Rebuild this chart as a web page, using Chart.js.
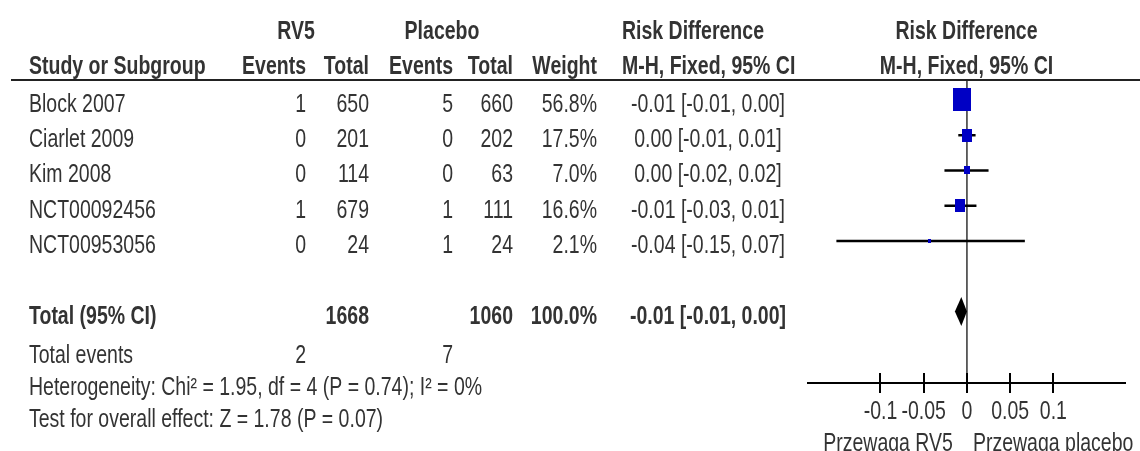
<!DOCTYPE html>
<html><head><meta charset="utf-8">
<script src="https://cdn.jsdelivr.net/npm/chart.js@4.4.1/dist/chart.umd.min.js"></script>
<style>html,body{margin:0;padding:0;background:#fff;overflow:hidden}#wrap{width:1140px;height:451px;position:relative}</style>
</head><body><div id="wrap"><canvas id="c" width="1140" height="451"></canvas></div>
<script>
// ---------- data ----------
const studies = ['Block 2007','Ciarlet 2009','Kim 2008','NCT00092456','NCT00953056'];
const rv5Events = [1,0,0,1,0];
const rv5Totals = [650,201,114,679,24];
const placeboEvents = [5,0,0,1,1];
const placeboTotals = [660,202,63,111,24];
const weights = [56.8,17.5,7.0,16.6,2.1];
const ciLabels = ['-0.01 [-0.01, 0.00]','0.00 [-0.01, 0.01]','0.00 [-0.02, 0.02]','-0.01 [-0.03, 0.01]','-0.04 [-0.15, 0.07]'];
const riskDiff = [-0.006, 0.0005, 0.0, -0.008, -0.043];
const ciLower = [-0.013, -0.010, -0.026, -0.026, -0.151];
const ciUpper = [0.001, 0.010, 0.025, 0.011, 0.067];
const studyRows = [1,2,3,4,5];
const totalRow = 7;
const totalLabel = 'Total (95% CI)';
const totalRv5 = 1668, totalPlacebo = 1060, totalWeight = '100.0%';
const totalCiLabel = '-0.01 [-0.01, 0.00]';
const totalRD = -0.0065, totalLower = -0.0139, totalUpper = 0.0;
const totalEventsLabel = 'Total events';
const totalEventsRv5 = 2, totalEventsPlacebo = 7;
const heterogeneityText = 'Heterogeneity: Chi\u00B2 = 1.95, df = 4 (P = 0.74); I\u00B2 = 0%';
const overallEffectText = 'Test for overall effect: Z = 1.78 (P = 0.07)';
const tickValues = [-0.1,-0.05,0,0.05,0.1];
const tickLabels = ['-0.1','-0.05','0','0.05','0.1'];
const favoursLeft = 'Przewaga RV5', favoursRight = 'Przewaga placebo';

// ---------- style ----------
const FONT = '"Liberation Sans", Arial, sans-serif';
const FS = 19.5, VS = 1.28, TEXT_DY = 2;
const TXT = '#333333';
const BLUE = '#0000C4';

function txt(ctx, s, x, y, align, bold) {
  ctx.save();
  ctx.font = (bold ? 'bold ' : '') + FS + 'px ' + FONT;
  ctx.fillStyle = TXT; ctx.textAlign = align; ctx.textBaseline = 'middle';
  ctx.translate(x, y + TEXT_DY); ctx.scale(1, VS); ctx.fillText(String(s), 0, 0);
  ctx.restore();
}

function squareCanvas(weight) {
  const w = Math.max(3, Math.round(2.4 * Math.sqrt(weight)));
  const h = Math.round(w * 1.3);
  const c = document.createElement('canvas');
  c.width = w; c.height = h;
  const g = c.getContext('2d'); g.fillStyle = BLUE; g.fillRect(0, 0, w, h);
  return c;
}

const Y_MIN = 0.433, Y_MAX = 9.03;

const datasets = [];
datasets.push({
  data: [{x:0, y:Y_MIN}, {x:0, y:Y_MAX}], showLine: true, borderColor: '#333',
  borderWidth: 1.5, pointRadius: 0, order: 3
});
studies.forEach((s, i) => {
  datasets.push({
    data: [{x: ciLower[i], y: studyRows[i]}, {x: ciUpper[i], y: studyRows[i]}],
    showLine: true, borderColor: '#000', borderWidth: 2.5, pointRadius: 0, order: 2
  });
});
datasets.push({
  data: studies.map((s, i) => ({x: riskDiff[i], y: studyRows[i]})),
  pointStyle: weights.map(squareCanvas), pointRadius: 3, showLine: false, order: 0
});

const tablePlugin = {
  id: 'table',
  afterDatasetsDraw(chart) {
    const ctx = chart.ctx, xs = chart.scales.x, ys = chart.scales.y, ca = chart.chartArea;
    // diamond
    const ty = ys.getPixelForValue(totalRow);
    ctx.save();
    ctx.fillStyle = '#000';
    ctx.beginPath();
    ctx.moveTo(xs.getPixelForValue(totalLower), ty);
    ctx.lineTo(xs.getPixelForValue(totalRD), ty - 14.5);
    ctx.lineTo(xs.getPixelForValue(totalUpper), ty);
    ctx.lineTo(xs.getPixelForValue(totalRD), ty + 14.5);
    ctx.closePath(); ctx.fill();
    // axis line
    ctx.strokeStyle = '#000'; ctx.lineWidth = 2;
    ctx.beginPath(); ctx.moveTo(ca.left, ca.bottom); ctx.lineTo(ca.right, ca.bottom); ctx.stroke();
    xs.ticks.forEach(t => {
      const px = Math.round(xs.getPixelForValue(t.value));
      ctx.beginPath(); ctx.moveTo(px, ca.bottom - 10); ctx.lineTo(px, ca.bottom + 10); ctx.stroke();
    });
    // header rule
    ctx.strokeStyle = '#222'; ctx.lineWidth = 2;
    ctx.beginPath(); ctx.moveTo(11, 80); ctx.lineTo(1140, 80); ctx.stroke();
    ctx.restore();
    xs.ticks.forEach((t, i) => txt(ctx, tickLabels[i], xs.getPixelForValue(t.value), 410, 'center', false));
    const x0 = xs.getPixelForValue(0);
    txt(ctx, favoursLeft, x0 - 14, 442, 'right', false);
    txt(ctx, favoursRight, x0 + 6, 442, 'left', false);

    // headers
    txt(ctx, 'RV5', 296, 30, 'center', true);
    txt(ctx, 'Placebo', 442, 30, 'center', true);
    txt(ctx, 'Risk Difference', 622, 30, 'left', true);
    const pc = (ca.left + ca.right) / 2;
    txt(ctx, 'Risk Difference', pc, 30, 'center', true);
    txt(ctx, 'Study or Subgroup', 29, 65, 'left', true);
    txt(ctx, 'Events', 306, 65, 'right', true);
    txt(ctx, 'Total', 369, 65, 'right', true);
    txt(ctx, 'Events', 453, 65, 'right', true);
    txt(ctx, 'Total', 513, 65, 'right', true);
    txt(ctx, 'Weight', 597, 65, 'right', true);
    txt(ctx, 'M-H, Fixed, 95% CI', 622, 65, 'left', true);
    txt(ctx, 'M-H, Fixed, 95% CI', pc, 65, 'center', true);

    // study rows
    studies.forEach((s, i) => {
      const y = ys.getPixelForValue(studyRows[i]) + 3;
      txt(ctx, s, 29, y, 'left', false);
      txt(ctx, rv5Events[i], 306, y, 'right', false);
      txt(ctx, rv5Totals[i], 369, y, 'right', false);
      txt(ctx, placeboEvents[i], 453, y, 'right', false);
      txt(ctx, placeboTotals[i], 513, y, 'right', false);
      txt(ctx, weights[i].toFixed(1) + '%', 597, y, 'right', false);
      txt(ctx, ciLabels[i], 708, y, 'center', false);
    });
    // total
    const yt = ty + 4;
    txt(ctx, totalLabel, 29, yt, 'left', true);
    txt(ctx, totalRv5, 369, yt, 'right', true);
    txt(ctx, totalPlacebo, 513, yt, 'right', true);
    txt(ctx, totalWeight, 597, yt, 'right', true);
    txt(ctx, totalCiLabel, 708, yt, 'center', true);
    txt(ctx, totalEventsLabel, 29, 354, 'left', false);
    txt(ctx, totalEventsRv5, 306, 354, 'right', false);
    txt(ctx, totalEventsPlacebo, 453, 354, 'right', false);
    txt(ctx, heterogeneityText, 29, 386, 'left', false);
    txt(ctx, overallEffectText, 29, 418, 'left', false);
  }
};

new Chart(document.getElementById('c'), {
  type: 'scatter',
  data: { datasets },
  options: {
    responsive: false, animation: false, devicePixelRatio: 1,
    layout: { padding: { left: 807, right: 14, top: 80, bottom: 68 } },
    plugins: { legend: { display: false }, tooltip: { enabled: false } },
    scales: {
      x: { type: 'linear', min: -0.185, max: 0.184, display: false,
           afterBuildTicks: s => { s.ticks = tickValues.map(v => ({ value: v })); } },
      y: { type: 'linear', min: Y_MIN, max: Y_MAX, reverse: true, display: false }
    }
  },
  plugins: [tablePlugin]
});
</script></body></html>
